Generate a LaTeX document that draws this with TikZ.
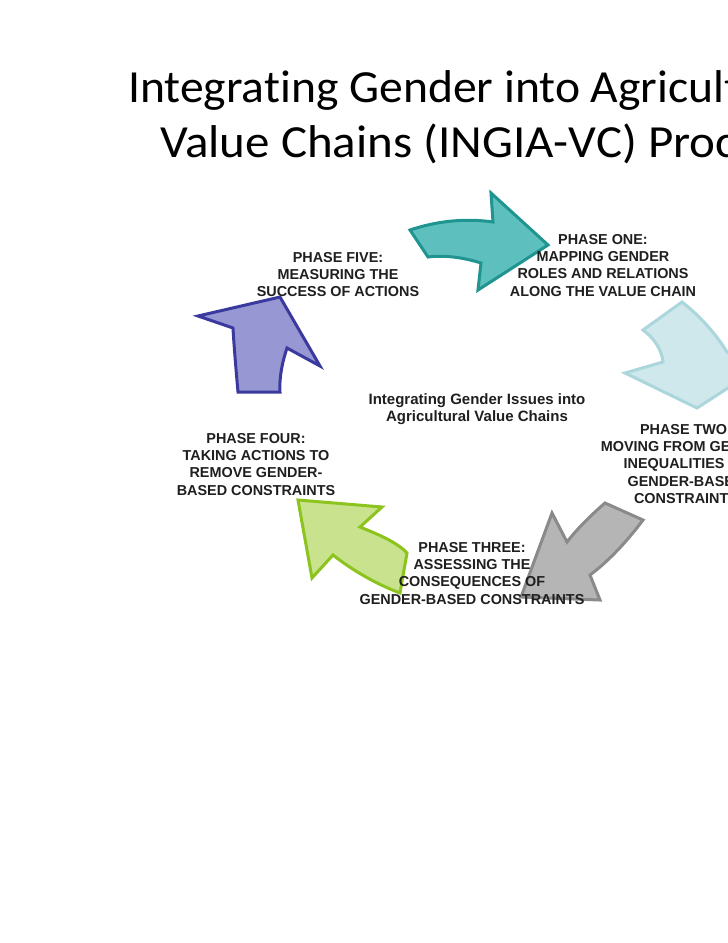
\documentclass[tikz,border=0pt]{standalone}
\usepackage{fontspec}
\newfontfamily\titlefontA[Ligatures=NoCommon, FakeStretch=1.035]{Carlito}
\newfontfamily\titlefontB[Ligatures=NoCommon, FakeStretch=1.065]{Carlito}
\newfontfamily\lblfont{Liberation Sans}
\definecolor{tealfill}{HTML}{5EC0BE}
\definecolor{tealline}{HTML}{1F9490}
\definecolor{bluefill}{HTML}{CFE8EC}
\definecolor{blueline}{HTML}{ABD6DC}
\definecolor{grayfill}{HTML}{B5B5B5}
\definecolor{grayline}{HTML}{8A8A8A}
\definecolor{greenfill}{HTML}{C8E28E}
\definecolor{greenline}{HTML}{8CC31C}
\definecolor{purpfill}{HTML}{9797D3}
\definecolor{purpline}{HTML}{3A3A9E}
\begin{document}
\begin{tikzpicture}[x=1pt,y=-1pt,
  shapearrow/.style={line width=3pt, line join=miter},
  titletext/.style={inner sep=0, anchor=base west, text=black},
  lbl/.style={font=\lblfont\bfseries\fontsize{14.4}{17.3}\selectfont, align=center, inner sep=0, anchor=north, text=black!88},
  ctr/.style={font=\lblfont\bfseries\fontsize{15}{17.3}\selectfont, align=center, inner sep=0, anchor=north, text=black!88}]
\useasboundingbox (0,0) rectangle (728,943);
\clip (0,0) rectangle (728,943);
\fill[white] (0,0) rectangle (728,943);

% title
\node[titletext, font=\titlefontA\fontsize{46}{55}\selectfont] (t1) at (128,102.3) {Integrating Gender into Agricultural};
\node[titletext, font=\titlefontB\fontsize{46}{55}\selectfont] (t2) at (160,157) {Value Chains (INGIA-VC) Process};

% phase one arrow (teal)
\draw[shapearrow, fill=tealfill, draw=tealline]
  (410,230) .. controls (437,221) and (465,218) .. (493,222)
  -- (491,193) -- (548,245) -- (478,290) -- (481,263)
  .. controls (462,257) and (443,255) .. (428,257) -- cycle;

% phase two arrow (light blue)
\draw[shapearrow, fill=bluefill, draw=blueline]
  (682,302) .. controls (700,316) and (716,334) .. (727,352)
  -- (765,364) -- (697,408) -- (625,373) -- (663,362)
  .. controls (662,350) and (654,338) .. (643,330) -- cycle;

% phase three arrow (gray)
\draw[shapearrow, fill=grayfill, draw=grayline]
  (605,503) .. controls (590,516) and (577,529) .. (567,542)
  -- (552,513) -- (521,597) -- (600,600) -- (590,575)
  .. controls (610,560) and (628,540) .. (643,520) -- cycle;

% phase four arrow (green)
\draw[shapearrow, fill=greenfill, draw=greenline]
  (298,500) -- (382,507) -- (360,527)
  .. controls (380,535) and (398,543) .. (407,553)
  -- (400,593)
  .. controls (376,584) and (352,570) .. (333,555)
  -- (312,578) -- cycle;

% phase five arrow (purple)
\draw[shapearrow, fill=purpfill, draw=purpline]
  (280,297) -- (320,366) -- (287,348)
  .. controls (283,360) and (279,376) .. (280,392)
  -- (238,392)
  .. controls (236,370) and (234,346) .. (233,328)
  -- (198,316) -- cycle;

% labels
\node[lbl] (p5) at (338,252) {PHASE FIVE:\\MEASURING THE\\SUCCESS OF ACTIONS};
\node[lbl] (p1) at (603,234) {PHASE ONE:\\MAPPING GENDER\\ROLES AND RELATIONS\\ALONG THE VALUE CHAIN};
\node[ctr] (c) at (477,393) {Integrating Gender Issues into\\Agricultural Value Chains};
\node[lbl] (p2) at (686,424) {PHASE TWO:\\MOVING FROM GENDER\\INEQUALITIES TO\\GENDER-BASED\\CONSTRAINTS};
\node[lbl] (p3) at (472,542) {PHASE THREE:\\ASSESSING THE\\CONSEQUENCES OF\\GENDER-BASED CONSTRAINTS};
\node[lbl] (p4) at (256,433) {PHASE FOUR:\\TAKING ACTIONS TO\\REMOVE GENDER-\\BASED CONSTRAINTS};
\end{tikzpicture}
\end{document}
